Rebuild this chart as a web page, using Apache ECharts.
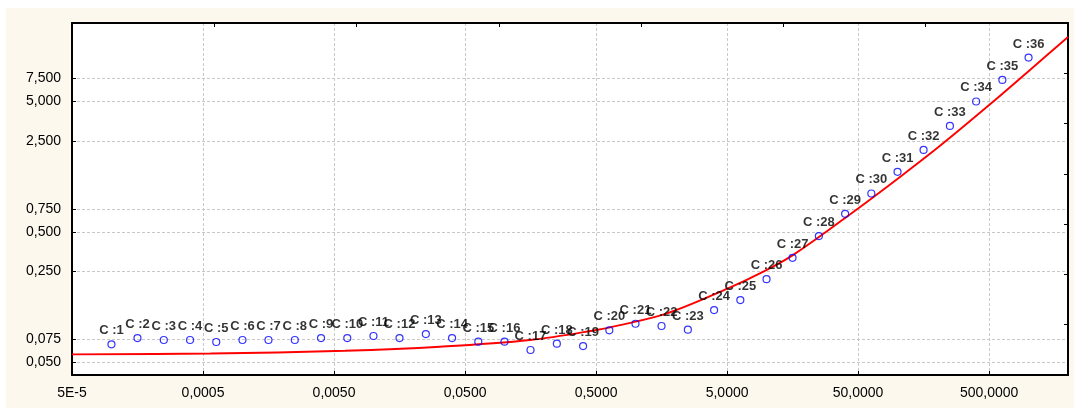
<!DOCTYPE html>
<html>
<head>
<meta charset="utf-8">
<script src="https://cdn.jsdelivr.net/npm/echarts@6/dist/echarts.min.js"></script>
<style>
  html, body { margin: 0; padding: 0; background: #ffffff; }
  #chart { position: absolute; left: 6px; top: 8px; width: 1068px; height: 400px; }
</style>
</head>
<body>
<div id="chart"></div>
<script>
// Observed cases: x (log scale) and y (log scale)
const caseX = [
  0.0001, 0.000158, 0.000251, 0.000398, 0.000631,
  0.001, 0.00158, 0.00251, 0.00398, 0.00631,
  0.01, 0.0158, 0.0251, 0.0398, 0.0631,
  0.1, 0.158, 0.251, 0.398, 0.631,
  1, 1.58, 2.51, 3.98, 6.31,
  10, 15.8, 25.1, 39.8, 63.1,
  100, 158, 251, 398, 631, 1000
];
const caseY = [
  0.0688, 0.0768, 0.0742, 0.0742, 0.0716,
  0.0742, 0.0742, 0.0742, 0.0768, 0.0768,
  0.0796, 0.0768, 0.0824, 0.0768, 0.0720,
  0.0720, 0.0622, 0.0695, 0.0667, 0.0880,
  0.0989, 0.0950, 0.0890, 0.1259, 0.1502,
  0.217, 0.3167, 0.4645, 0.688, 0.986,
  1.444, 2.129, 3.25, 5.00, 7.32, 10.86
];
const caseNames = caseX.map((_, i) => 'C :' + (i + 1));

// Fitted curve, sampled along x
const fitX = [0.00005, 0.00057, 0.00606, 0.0322, 0.157, 0.5, 0.761, 1.74, 5.08, 8.9, 15.9, 48.8, 104.4, 211, 508, 1025, 2000];
const fitY = [0.0576, 0.0584, 0.0614, 0.0659, 0.0742, 0.0885, 0.0966, 0.1188, 0.1846, 0.2405, 0.332, 0.744, 1.32, 2.288, 4.76, 8.73, 15.6];

// Axis ticks and their labels
const xTickValues = [0.00005, 0.0005, 0.005, 0.05, 0.5, 5, 50, 500];
const xTickLabels = ['5E-5', '0,0005', '0,0050', '0,0500', '0,5000', '5,0000', '50,0000', '500,0000'];
const yTickValues = [0.05, 0.075, 0.25, 0.5, 0.75, 2.5, 5, 7.5];
const yTickLabels = ['0,050', '0,075', '0,250', '0,500', '0,750', '2,500', '5,000', '7,500'];

function labelFor(values, labels) {
  return function (v) {
    for (let i = 0; i < values.length; i++) {
      if (Math.abs(Math.log10(v / values[i])) < 1e-6) return labels[i];
    }
    return '';
  };
}

const FONT = "'Liberation Sans', Arial, sans-serif";
const gridLine = { show: true, lineStyle: { color: '#c8c8c8', width: 1, type: [3, 2] } };
const frameLine = { show: true, onZero: false, lineStyle: { color: '#000000', width: 2 } };
const innerTick = { show: true, inside: true, length: 4, lineStyle: { color: '#000000', width: 1 } };

const chart = echarts.init(document.getElementById('chart'), null, { renderer: 'canvas' });
chart.setOption({
  animation: false,
  backgroundColor: '#fdf8ed',
  grid: {
    left: 66, top: 15, right: 6, bottom: 33,
    show: true, backgroundColor: '#ffffff', borderWidth: 0
  },
  xAxis: [
    {
      type: 'log', logBase: 10, min: 0.00005, max: 2000,
      axisLine: frameLine,
      axisTick: Object.assign({}, innerTick, { customValues: xTickValues }),
      axisLabel: {
        customValues: xTickValues,
        formatter: labelFor(xTickValues, xTickLabels),
        color: '#000000', fontFamily: FONT, fontSize: 14, margin: 11
      },
      splitLine: gridLine,
      minorTick: { show: false }, minorSplitLine: { show: false }
    },
    {
      type: 'value', position: 'top', min: 0, max: 7, interval: 1,
      axisLine: frameLine, axisTick: innerTick,
      axisLabel: { show: false }, splitLine: { show: false }
    }
  ],
  yAxis: [
    {
      type: 'log', logBase: 10, min: 0.04, max: 20,
      axisLine: frameLine,
      axisTick: Object.assign({}, innerTick, { customValues: yTickValues }),
      axisLabel: {
        customValues: yTickValues,
        formatter: labelFor(yTickValues, yTickLabels),
        color: '#000000', fontFamily: FONT, fontSize: 14, margin: 11
      },
      splitLine: gridLine,
      minorTick: { show: false }, minorSplitLine: { show: false }
    },
    {
      type: 'value', position: 'right', min: 0, max: 7, interval: 1,
      axisLine: frameLine, axisTick: innerTick,
      axisLabel: { show: false }, splitLine: { show: false }
    }
  ],
  series: [
    {
      type: 'line',
      z: 2,
      data: fitX.map((x, i) => [x, fitY[i]]),
      smooth: 0.35,
      showSymbol: false,
      lineStyle: { color: '#ff0000', width: 1.9 },
      silent: true
    },
    {
      type: 'scatter',
      z: 3,
      data: caseX.map((x, i) => ({ value: [x, caseY[i]], name: caseNames[i] })),
      symbol: 'circle',
      symbolSize: 7,
      itemStyle: { color: 'rgba(255,255,255,0)', borderColor: '#0000ff', borderWidth: 1.2 },
      label: {
        show: true, position: 'top', distance: 3,
        formatter: p => p.name,
        color: '#000000', fontFamily: FONT, fontSize: 13, fontWeight: 'bold'
      },
      labelLayout: { hideOverlap: false },
      silent: true
    }
  ]
});
</script>
</body>
</html>
